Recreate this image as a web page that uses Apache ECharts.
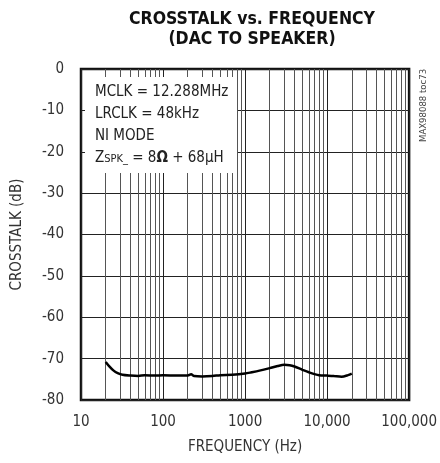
<!DOCTYPE html>
<html><head><meta charset="utf-8">
<script src="https://cdn.jsdelivr.net/npm/echarts@6/dist/echarts.min.js"></script>
<style>html,body{margin:0;padding:0;background:#fff}#c{width:440px;height:463px}</style>
</head><body><div id="c"></div>
<script>
const freqHz = [20, 22, 25, 28, 32, 40, 50, 60, 80, 100, 150, 200, 220, 240, 300, 400, 500, 700, 1000, 1200, 1500, 2000, 2500, 3000, 3500, 4000, 5000, 6000, 8000, 10000, 12000, 15000, 18000, 20000];
const crosstalkDb = [-70.8, -71.8, -72.9, -73.5, -73.9, -74.1, -74.2, -74.0, -74.1, -74.0, -74.1, -74.1, -73.8, -74.2, -74.3, -74.2, -74.0, -73.9, -73.6, -73.3, -72.9, -72.3, -71.8, -71.5, -71.6, -71.9, -72.7, -73.3, -74.0, -74.1, -74.2, -74.4, -74.0, -73.6];
const xTickLabels = {10: '10', 100: '100', 1000: '1000', 10000: '10,000', 100000: '100,000'};
const minorFreqs = [];
[10, 100, 1000, 10000].forEach(d => { for (let k = 2; k <= 9; k++) minorFreqs.push(d * k); });

const FONT = '"DejaVu Sans Condensed", "Liberation Sans Narrow", "Liberation Sans", sans-serif';
const chart = echarts.init(document.getElementById('c'), null, {renderer: 'canvas'});
chart.setOption({
  animation: false,
  title: {
    text: 'CROSSTALK vs. FREQUENCY\n(DAC TO SPEAKER)',
    left: 247, top: 4, textAlign: 'center',
    textStyle: {fontFamily: FONT, fontWeight: 'bold', fontSize: 17.5, lineHeight: 20, color: '#111'}
  },
  grid: {left: 81, right: 27, top: 69, bottom: 63, show: true, borderColor: '#111', borderWidth: 2.5, backgroundColor: 'transparent'},
  xAxis: {
    type: 'log', logBase: 10, min: 10, max: 100000,
    name: 'FREQUENCY (Hz)', nameLocation: 'middle', nameGap: 40,
    nameTextStyle: {fontFamily: FONT, fontSize: 15, color: '#333'},
    axisLine: {show: false}, axisTick: {show: false},
    axisLabel: {fontFamily: FONT, fontSize: 15, color: '#333', margin: 15, formatter: v => xTickLabels[Math.round(v)] || ''},
    splitLine: {show: true, lineStyle: {color: '#222', width: 1}}
  },
  yAxis: {
    type: 'value', min: -80, max: 0, interval: 10,
    name: 'CROSSTALK (dB)', nameLocation: 'middle', nameGap: 56, nameRotate: 90,
    nameTextStyle: {fontFamily: FONT, fontSize: 15, color: '#333'},
    axisLine: {show: false}, axisTick: {show: false},
    axisLabel: {fontFamily: FONT, fontSize: 15, color: '#333', margin: 17},
    splitLine: {show: true, lineStyle: {color: '#222', width: 1}}
  },
  series: [{
    type: 'line',
    data: freqHz.map((f, i) => [f, crosstalkDb[i]]),
    showSymbol: false, smooth: 0.3,
    lineStyle: {color: '#000', width: 2.5},
    z: 5,
    markLine: {
      silent: true, symbol: 'none', label: {show: false},
      lineStyle: {color: '#555', width: 1, type: 'solid'},
      data: minorFreqs.map(f => ({xAxis: f}))
    }
  }],
  graphic: [
    {type: 'rect', z: 100, shape: {x: 85, y: 77, width: 152, height: 96}, style: {fill: '#fff'}},
    {type: 'text', z: 101, left: 95, top: 81,
      style: {
        text: 'MCLK = 12.288MHz\nLRCLK = 48kHz\nNI MODE\n{z|Z}{s|SPK_}{z| = 8}{o|Ω}{z| + 68μH}',
        fontFamily: FONT, fontSize: 15, lineHeight: 22, fill: '#222',
        rich: {
          z: {fontFamily: FONT, fontSize: 15, fill: '#222'},
          s: {fontFamily: FONT, fontSize: 11, fill: '#222', padding: [3, 0, 0, 0]},
          o: {fontFamily: FONT, fontSize: 15, fontWeight: 'bold', fill: '#222'}
        }
      }},
    {type: 'text', z: 101, x: 419, y: 142, rotation: Math.PI / 2,
      style: {text: 'MAX98088 toc73', fontFamily: FONT, fontSize: 9.5, fill: '#444'}}
  ]
});
</script></body></html>
